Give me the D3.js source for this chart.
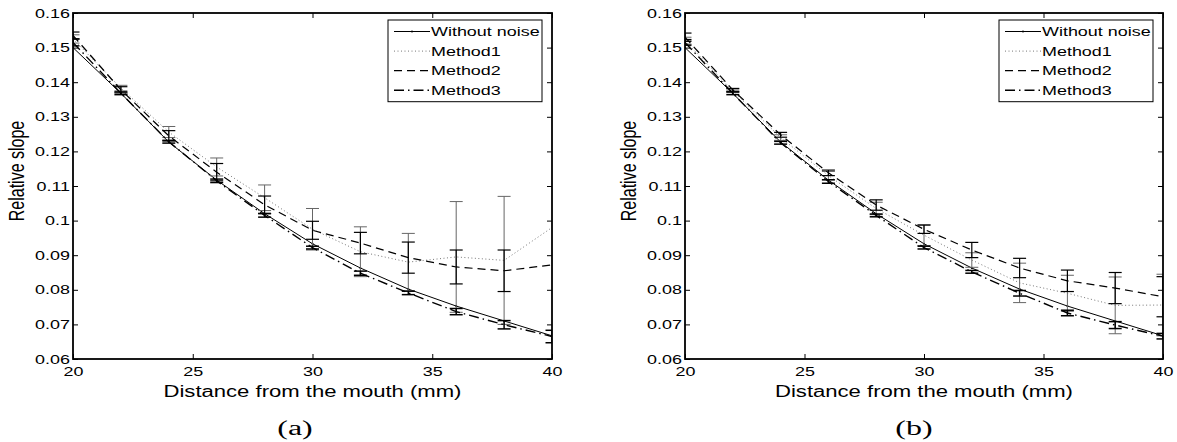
<!DOCTYPE html>
<html>
<head>
<meta charset="utf-8">
<script src="https://cdn.jsdelivr.net/npm/d3@7"></script>
<style>
  body { margin: 0; background: #fff; }
  svg { display: block; font-family: "Liberation Sans", Arial, sans-serif; }
</style>
</head>
<body>
<svg id="chart" width="1177" height="442"></svg>
<script>
// distance from the mouth (mm), sampled every 2 mm
const distance = [20, 22, 24, 26, 28, 30, 32, 34, 36, 38, 40];
const xTicks = [20, 25, 30, 35, 40];
const yTicks = [0.06, 0.07, 0.08, 0.09, 0.10, 0.11, 0.12, 0.13, 0.14, 0.15, 0.16];
const yTickLabels = ["0.06", "0.07", "0.08", "0.09", "0.1", "0.11", "0.12", "0.13", "0.14", "0.15", "0.16"];
const legendNames = ["Without noise", "Method1", "Method2", "Method3"];

// reference curve (same in both panels)
const withoutNoise = [0.1500, 0.1368, 0.1227, 0.1117, 0.1020, 0.0933, 0.0863, 0.0802, 0.0753, 0.0710, 0.0667];

// panel (a)
const m1A  = [0.1525, 0.1383, 0.1256, 0.1155, 0.1066, 0.0975, 0.0910, 0.0880, 0.0895, 0.0885, 0.0980];
const m1eA = [0.0012, 0.0008, 0.0016, 0.0026, 0.0037, 0.0060, 0.0072, 0.0083, 0.0160, 0.0185, null];
const m2A  = [0.1535, 0.1378, 0.1245, 0.1140, 0.1046, 0.0972, 0.0935, 0.0893, 0.0866, 0.0855, 0.0872];
const m2eA = [0.0010, 0.0009, 0.0015, 0.0025, 0.0025, 0.0026, 0.0031, 0.0045, 0.0049, 0.0060, null];
const m3A  = [0.1515, 0.1368, 0.1228, 0.1115, 0.1015, 0.0922, 0.0848, 0.0791, 0.0737, 0.0699, 0.0665];
const m3eA = [0.0010, 0.0004, 0.0004, 0.0005, 0.0005, 0.0004, 0.0006, 0.0005, 0.0009, 0.0012, 0.0018];

// panel (b)
const m1B  = [0.1520, 0.1375, 0.1240, 0.1130, 0.1035, 0.0958, 0.0886, 0.0820, 0.0790, 0.0755, 0.0756];
const m1eB = [0.0010, 0.0005, 0.0008, 0.0012, 0.0018, 0.0030, 0.0021, 0.0057, 0.0052, 0.0082, 0.0089];
const m2B  = [0.1530, 0.1378, 0.1248, 0.1138, 0.1045, 0.0975, 0.0915, 0.0863, 0.0826, 0.0805, 0.0780];
const m2eB = [0.0012, 0.0004, 0.0007, 0.0008, 0.0015, 0.0012, 0.0022, 0.0028, 0.0031, 0.0045, 0.0058];
const m3B  = [0.1515, 0.1368, 0.1225, 0.1113, 0.1015, 0.0922, 0.0852, 0.0790, 0.0733, 0.0698, 0.0666];
const m3eB = [0.0008, 0.0004, 0.0004, 0.0005, 0.0004, 0.0004, 0.0004, 0.0008, 0.0008, 0.0010, 0.0008];

// the source figure is stretched horizontally, so text is too
const SX = 1.38;

const styles = [
  { stroke: "#000", width: 1,   dash: null },
  { stroke: "#777", width: 1,   dash: "1,2.5" },
  { stroke: "#000", width: 1.2, dash: "8,5" },
  { stroke: "#000", width: 1.4, dash: "10,4,1.5,4" }
];
const barStyles = [null, { stroke: "#666", width: 1 }, { stroke: "#000", width: 1.2 }, { stroke: "#000", width: 1.5 }];

const svg = d3.select("#chart");

const panels = [
  { id: "a", left: 73, right: 552, caption: "(a)", capX: 295, legX: 388,
    series: [[withoutNoise, null], [m1A, m1eA], [m2A, m2eA], [m3A, m3eA]] },
  { id: "b", left: 685, right: 1163, caption: "(b)", capX: 914, legX: 999,
    series: [[withoutNoise, null], [m1B, m1eB], [m2B, m2eB], [m3B, m3eB]] }
];

function stext(g, x, y, str, size, anchor, sx = SX) {
  return g.append("text")
    .attr("transform", `translate(${x},${y}) scale(${sx},1)`)
    .attr("font-size", size)
    .attr("text-anchor", anchor)
    .attr("fill", "#000")
    .text(str);
}

panels.forEach(p => {
  const top = 13, bottom = 359;
  const x = d3.scaleLinear().domain([20, 40]).range([p.left, p.right]);
  const y = d3.scaleLinear().domain([0.06, 0.16]).range([bottom, top]);
  const g = svg.append("g");

  g.append("clipPath").attr("id", "clip" + p.id)
    .append("rect").attr("x", p.left).attr("y", top)
    .attr("width", p.right - p.left).attr("height", bottom - top);

  const plot = g.append("g").attr("clip-path", `url(#clip${p.id})`);
  const line = d3.line().x((d, i) => x(distance[i])).y(d => y(d));

  p.series.forEach(([vals, errs], k) => {
    const st = styles[k];
    plot.append("path")
      .attr("d", line(vals))
      .attr("fill", "none")
      .attr("stroke", st.stroke)
      .attr("stroke-width", st.width)
      .attr("stroke-dasharray", st.dash);

    if (k === 0) {
      plot.selectAll(null).data(vals).join("circle")
        .attr("cx", (d, i) => x(distance[i])).attr("cy", d => y(d))
        .attr("r", 1).attr("fill", "#000");
    }
    if (errs) {
      const bs = barStyles[k];
      const bars = plot.append("g")
        .attr("stroke", bs.stroke).attr("stroke-width", bs.width).attr("fill", "none");
      vals.forEach((v, i) => {
        if (errs[i] == null) return;
        const cx = x(distance[i]);
        const y1 = y(v - errs[i]), y2 = y(v + errs[i]);
        bars.append("line").attr("x1", cx).attr("x2", cx).attr("y1", y1).attr("y2", y2);
        [y1, y2].forEach(yy => bars.append("line")
          .attr("x1", cx - 6.5).attr("x2", cx + 6.5).attr("y1", yy).attr("y2", yy));
      });
    }
  });

  // axes with inward ticks, MATLAB style
  const styleAxis = a => {
    a.select(".domain").remove();
    a.selectAll(".tick line").attr("stroke", "#000").attr("stroke-width", 1);
    a.attr("font-size", 13).attr("font-family", null);
  };
  const ay = g.append("g").attr("transform", `translate(${p.left},0)`)
    .call(d3.axisLeft(y).tickValues(yTicks).tickFormat((d, i) => yTickLabels[i])
      .tickSizeInner(-5).tickSizeOuter(0).tickPadding(3));
  styleAxis(ay);
  ay.selectAll(".tick text").attr("x", -3 / SX).attr("transform", `scale(${SX},1)`).attr("fill", "#000");

  const ax = g.append("g").attr("transform", `translate(0,${bottom})`)
    .call(d3.axisBottom(x).tickValues(xTicks).tickFormat(d3.format("d"))
      .tickSizeInner(-5).tickSizeOuter(0).tickPadding(7.5));
  styleAxis(ax);
  ax.selectAll(".tick text").attr("transform", `scale(${SX},1)`).attr("fill", "#000");

  const at = g.append("g").attr("transform", `translate(0,${top})`)
    .call(d3.axisTop(x).tickValues(xTicks).tickFormat("").tickSizeInner(-5).tickSizeOuter(0));
  styleAxis(at);
  const ar = g.append("g").attr("transform", `translate(${p.right},0)`)
    .call(d3.axisRight(y).tickValues(yTicks).tickFormat("").tickSizeInner(-5).tickSizeOuter(0));
  styleAxis(ar);

  g.append("rect")
    .attr("x", p.left).attr("y", top)
    .attr("width", p.right - p.left).attr("height", bottom - top)
    .attr("fill", "none").attr("stroke", "#000").attr("stroke-width", 1.8);

  // labels
  stext(g, (p.left + p.right) / 2, 396.5, "Distance from the mouth (mm)", 16, "middle");
  g.append("text")
    .attr("transform", `translate(${p.left - 49},171) scale(${SX},1) rotate(-90)`)
    .attr("font-size", 16).attr("text-anchor", "middle").attr("fill", "#000")
    .text("Relative slope");
  stext(g, p.capX, 435, p.caption, 20, "middle", 1.6)
    .attr("font-family", "'Liberation Serif', 'Times New Roman', serif");

  // legend
  const lg = g.append("g");
  lg.append("rect").attr("x", p.legX).attr("y", 20).attr("width", 154).attr("height", 81.7)
    .attr("fill", "#fff").attr("stroke", "#000").attr("stroke-width", 1);
  legendNames.forEach((name, k) => {
    const ry = 31.5 + k * 19.6;
    const st = styles[k];
    lg.append("line").attr("x1", p.legX + 6).attr("x2", p.legX + 42).attr("y1", ry).attr("y2", ry)
      .attr("stroke", st.stroke).attr("stroke-width", st.width).attr("stroke-dasharray", st.dash);
    if (k === 0) lg.append("circle").attr("cx", p.legX + 24).attr("cy", ry).attr("r", 1).attr("fill", "#000");
    stext(lg, p.legX + 43, ry + 4.7, name, 13, "start");
  });
});
</script>
</body>
</html>
